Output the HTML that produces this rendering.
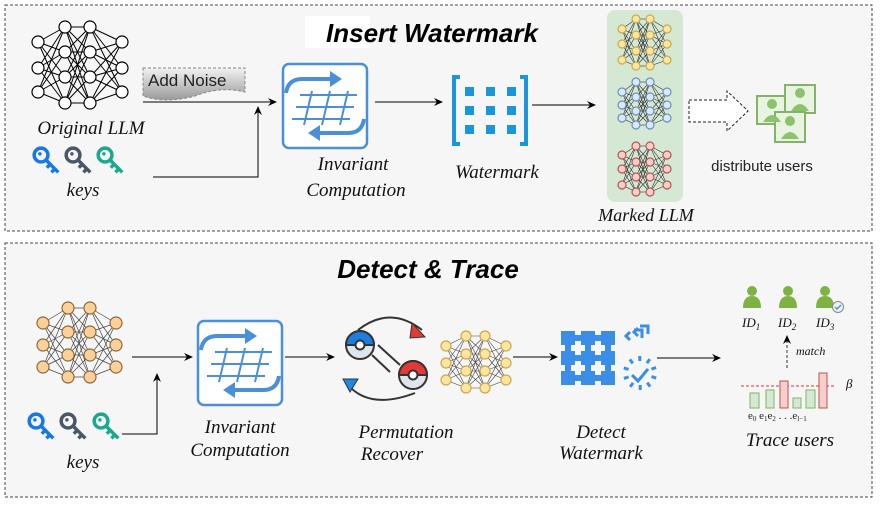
<!DOCTYPE html>
<html><head><meta charset="utf-8"><style>
html,body{margin:0;padding:0;background:#fff;}
svg{display:block}
.t{font-family:"Liberation Serif",serif;font-style:italic;fill:#111;}
.ti{font-family:"Liberation Sans",sans-serif;font-weight:bold;font-style:italic;fill:#000;}
</style></head><body>
<svg id="s" width="880" height="506" viewBox="0 0 880 506" xmlns="http://www.w3.org/2000/svg">
<defs>
<marker id="ar" markerWidth="10" markerHeight="10" refX="8" refY="5" orient="auto" markerUnits="userSpaceOnUse"><path d="M0,1 L9,5 L0,9 L3,5 Z" fill="#000"/></marker>
<linearGradient id="ng" x1="0" y1="0" x2="0" y2="1"><stop offset="0" stop-color="#f2f2f2"/><stop offset="1" stop-color="#9a9a9a"/></linearGradient>
<g id="inv">
<rect x="1" y="1" width="84" height="84" rx="6" fill="#fff" stroke="#4a90d9" stroke-width="2.5"/>
<path d="M4,30 Q6,16 20,16 L50,16" fill="none" stroke="#4a90d9" stroke-width="4"/>
<path d="M48,8 L60,16 L48,24 Z" fill="#4a90d9"/>
<path d="M82,56 Q80,70 66,70 L36,70" fill="none" stroke="#4a90d9" stroke-width="4"/>
<path d="M38,62 L26,70 L38,78 Z" fill="#4a90d9"/>
<g stroke="#4a90d9" stroke-width="2"><line x1="18" y1="32" x2="75" y2="32"/><line x1="14" y1="44" x2="72" y2="44"/><line x1="10" y1="56" x2="68" y2="56"/>
<line x1="30" y1="28" x2="22" y2="62"/><line x1="48" y1="28" x2="40" y2="62"/><line x1="66" y1="28" x2="58" y2="62"/></g>
</g>
<g id="key1"><circle cx="7" cy="7" r="6" fill="none" stroke-width="3"/><path d="M11,11 L22,22 M15,15 L12,18 M19,19 L16,22" fill="none" stroke-width="3"/><circle cx="6" cy="6" r="1.5" stroke="none"/></g>
</defs>
<rect x="5" y="5" width="867" height="226" fill="#f6f6f6" stroke="#444" stroke-dasharray="3,2"/>
<rect x="5" y="243" width="867" height="254" fill="#f6f6f6" stroke="#444" stroke-dasharray="3,2"/>
<rect x="305" y="16" width="65" height="32" fill="#fff"/>
<text class="ti" x="432" y="42" font-size="26" text-anchor="middle">Insert  Watermark</text>
<text class="ti" x="428" y="278" font-size="26" text-anchor="middle">Detect &amp; Trace</text>
<rect x="607" y="10" width="76" height="192" rx="8" fill="#d5e8d4"/>
<g id="nets"></g>
<text class="t" x="91" y="134" font-size="19" text-anchor="middle">Original LLM</text>
<g transform="translate(33,147) scale(1.15)" fill="#1677e8" stroke="#1677e8"><use href="#key1"/></g>
<g transform="translate(65,147) scale(1.15)" fill="#4a5866" stroke="#4a5866"><use href="#key1"/></g>
<g transform="translate(97,147) scale(1.15)" fill="#18a98f" stroke="#18a98f"><use href="#key1"/></g>
<text class="t" x="83" y="196" font-size="19" text-anchor="middle">keys</text>
<path d="M143,68 L245,68 L245,92 Q220,86 195,96 Q165,104 143,96 Z" fill="url(#ng)" stroke="#888" stroke-dasharray="3,2"/>
<text x="148" y="86" font-family="Liberation Sans,sans-serif" font-size="17" fill="#222">Add Noise</text>
<line x1="143" y1="102" x2="276" y2="102" stroke="#000" marker-end="url(#ar)"/>
<polyline points="153,177 258,177 258,107" fill="none" stroke="#000" marker-end="url(#ar)"/>
<use href="#inv" x="282" y="63"/>
<text class="t" x="353" y="170" font-size="19" text-anchor="middle">Invariant</text>
<text class="t" x="356" y="196" font-size="19" text-anchor="middle">Computation</text>
<line x1="375" y1="102" x2="442" y2="102" stroke="#000" marker-end="url(#ar)"/>
<g fill="#1a96dc"><path d="M452,75 h8 v4 h-4 v63 h4 v4 h-8 Z"/><path d="M528,75 h-8 v4 h4 v63 h-4 v4 h8 Z"/></g>
<g id="wm" fill="#1a96dc"></g>
<text class="t" x="497" y="178" font-size="19" text-anchor="middle">Watermark</text>
<line x1="532" y1="105" x2="595" y2="105" stroke="#000" marker-end="url(#ar)"/>
<text class="t" x="646" y="221" font-size="18" text-anchor="middle">Marked LLM</text>
<path d="M689,100 L727,100 L727,91 L748,111 L727,131 L727,122 L689,122 Z" fill="#fff" stroke="#222" stroke-dasharray="3,2"/>
<g stroke="#82b366" fill="#e8f3e2" stroke-width="2">
<rect x="757" y="96" width="30" height="28"/><rect x="785" y="85" width="30" height="28"/><rect x="775" y="112" width="30" height="30"/></g>
<g fill="#8cc26c"><circle cx="772" cy="104" r="5"/><path d="M763,122 q9,-14 18,0 z"/><circle cx="800" cy="93" r="5"/><path d="M791,111 q9,-14 18,0 z"/><circle cx="790" cy="121" r="5"/><path d="M781,139 q9,-14 18,0 z"/></g>
<text x="762" y="171" font-family="Liberation Sans,sans-serif" font-size="15" fill="#222" text-anchor="middle">distribute users</text>

<line x1="132" y1="357" x2="192" y2="357" stroke="#000" marker-end="url(#ar)"/>
<g transform="translate(28,413) scale(1.15)" fill="#1677e8" stroke="#1677e8"><use href="#key1"/></g>
<g transform="translate(60,413) scale(1.15)" fill="#4a5866" stroke="#4a5866"><use href="#key1"/></g>
<g transform="translate(93,413) scale(1.15)" fill="#18a98f" stroke="#18a98f"><use href="#key1"/></g>
<polyline points="122,434 157,434 157,374" fill="none" stroke="#000" marker-end="url(#ar)"/>
<text class="t" x="83" y="468" font-size="19" text-anchor="middle">keys</text>
<use href="#inv" x="197" y="320"/>
<line x1="285" y1="357" x2="334" y2="357" stroke="#000" marker-end="url(#ar)"/>
<text class="t" x="240" y="433" font-size="19" text-anchor="middle">Invariant</text>
<text class="t" x="240" y="456" font-size="19" text-anchor="middle">Computation</text>
<g stroke="#333" stroke-width="2" fill="none">
<path d="M358,330 Q390,305 422,330"/><path d="M348,385 Q370,410 415,393"/>
<line x1="378" y1="345" x2="400" y2="365"/><line x1="372" y1="355" x2="390" y2="372"/></g>
<path d="M412,323 L425,337 L410,338 Z" fill="#e53935" stroke="#333"/>
<path d="M343,379 L358,379 L350,392 Z" fill="#1e88e5" stroke="#333"/>
<circle cx="360" cy="345" r="14" fill="#dde6ec" stroke="#333" stroke-width="2"/><path d="M346,345 a14,14 0 0 1 28,0 z" fill="#1e7ee0" stroke="#333" stroke-width="2"/><circle cx="360" cy="345" r="4.5" fill="#fff" stroke="#333" stroke-width="2"/>
<circle cx="413" cy="375" r="14" fill="#dde6ec" stroke="#333" stroke-width="2"/><path d="M399,375 a14,14 0 0 1 28,0 z" fill="#e53935" stroke="#333" stroke-width="2"/><circle cx="413" cy="375" r="4.5" fill="#fff" stroke="#333" stroke-width="2"/>
<text class="t" x="406" y="438" font-size="19" text-anchor="middle">Permutation</text>
<text class="t" x="392" y="460" font-size="19" text-anchor="middle">Recover</text>
<line x1="513" y1="357" x2="557" y2="357" stroke="#000" marker-end="url(#ar)"/>
<g id="dg" fill="#3a8ee8"></g>
<g stroke="#3a8ee8" stroke-width="3" fill="none"><path d="M630,332 l-4,4 l4,4 M638,328 l-4,4 l4,4"/><path d="M640,326 h8 v8 M634,330 h8 v8"/>
<path d="M632,375 l6,6 l10,-12"/></g>
<g id="ck" stroke="#3a8ee8" stroke-width="3"></g>
<text class="t" x="601" y="438" font-size="19" text-anchor="middle">Detect</text>
<text class="t" x="601" y="459" font-size="19" text-anchor="middle">Watermark</text>
<line x1="657" y1="358" x2="720" y2="358" stroke="#000" marker-end="url(#ar)"/>
<g fill="#7cb342"><circle cx="752" cy="291" r="5"/><path d="M743,308 q0,-12 9,-12 q9,0 9,12 z"/><circle cx="788" cy="291" r="5"/><path d="M779,308 q0,-12 9,-12 q9,0 9,12 z"/><circle cx="825" cy="291" r="5"/><path d="M816,308 q0,-12 9,-12 q9,0 9,12 z"/></g>
<circle cx="838" cy="307" r="5.5" fill="#eef" stroke="#888"/><path d="M835,307 l2,2 l4,-4" stroke="#3aa" stroke-width="1.5" fill="none"/>
<g class="t" font-size="13"><text x="742" y="327">ID<tspan font-size="9" dy="3">1</tspan></text><text x="778" y="327">ID<tspan font-size="9" dy="3">2</tspan></text><text x="816" y="327">ID<tspan font-size="9" dy="3">3</tspan></text></g>
<line x1="787" y1="368" x2="787" y2="336" stroke="#333" stroke-dasharray="3,2" marker-end="url(#ar)"/>
<text class="t" x="796" y="355" font-size="12">match</text>
<line x1="741" y1="386" x2="836" y2="386" stroke="#d33" stroke-dasharray="3,2"/>
<text class="t" x="846" y="388" font-size="13">β</text>
<g stroke="#82b366" fill="#d5e8d4"><rect x="750" y="393" width="9" height="15"/><rect x="766" y="390" width="8" height="18"/><rect x="793" y="398" width="8" height="10"/><rect x="806" y="390" width="9" height="18"/></g>
<g stroke="#b85450" fill="#f8cecc"><rect x="780" y="381" width="8" height="27"/><rect x="819" y="373" width="8" height="35"/></g>
<text x="748" y="419" font-family="Liberation Serif,serif" font-size="11" fill="#222">e<tspan font-size="7" dy="2">0</tspan><tspan dy="-2"> e</tspan><tspan font-size="7" dy="2">1</tspan><tspan dy="-2">e</tspan><tspan font-size="7" dy="2">2</tspan><tspan dy="-2"> . . .e</tspan><tspan font-size="7" dy="2">l−1</tspan></text>
<text class="t" x="790" y="446" font-size="19" text-anchor="middle">Trace users</text>
</svg>
<script>
var NS="http://www.w3.org/2000/svg",nets=document.getElementById('nets');
function el(p,t,a){var e=document.createElementNS(NS,t);for(var k in a)e.setAttribute(k,a[k]);p.appendChild(e);return e;}
function net(xs,ys4,ys3,r,fill,stroke,lc,lw){
 var L=[ys3,ys4,ys4,ys3];
 for(var i=0;i<3;i++)for(var a of L[i])for(var b of L[i+1])el(nets,'line',{x1:xs[i],y1:a,x2:xs[i+1],y2:b,stroke:lc,'stroke-width':lw});
 for(var i=0;i<4;i++)for(var y of L[i])el(nets,'circle',{cx:xs[i],cy:y,r:r,fill:fill,stroke:stroke,'stroke-width':1.2});
}
net([38,65,90,122],[27,52,77,103],[42,68,92],6,'#fff','#000','#000',1);
net([43,68,90,116],[308,332,355,377],[323,345,367],6,'#fdd09a','#8a6a3a','#444',0.7);
net([446,466,485,506],[336,354,371,388],[346,363,380],5,'#fbe5a0','#c9a94a','#444',0.6);
net([622,636,650,667],[19,35,51,66],[29,44,60],4,'#fbe5a0','#c9a94a','#333',0.6);
net([622,636,650,667],[82,97,111,125],[92,105,118],4,'#dae8fc','#6c8ebf','#333',0.6);
net([622,636,650,667],[146,162,177,192],[155,169,185],4,'#f8cecc','#b85450','#333',0.6);
var wm=document.getElementById('wm');
for(var i=0;i<3;i++)for(var j=0;j<3;j++)el(wm,'rect',{x:465+i*21,y:87+j*19,width:9,height:9});
var dg=document.getElementById('dg');
for(var i=0;i<3;i++)for(var j=0;j<3;j++){el(dg,'rect',{x:561+i*20,y:331+j*20,width:14,height:14});}
for(var i=0;i<2;i++)for(var j=0;j<3;j++){el(dg,'rect',{x:573+i*20,y:335+j*20,width:10,height:6});}
for(var i=0;i<3;i++)for(var j=0;j<2;j++){el(dg,'rect',{x:565+i*20,y:343+j*20,width:6,height:10});}
var ck=document.getElementById('ck');
for(var k=0;k<10;k++){var a=k*Math.PI/5+0.3;el(ck,'line',{x1:640+12*Math.cos(a),y1:373+12*Math.sin(a),x2:640+17*Math.cos(a),y2:373+17*Math.sin(a)});}
</script>
</body></html>
